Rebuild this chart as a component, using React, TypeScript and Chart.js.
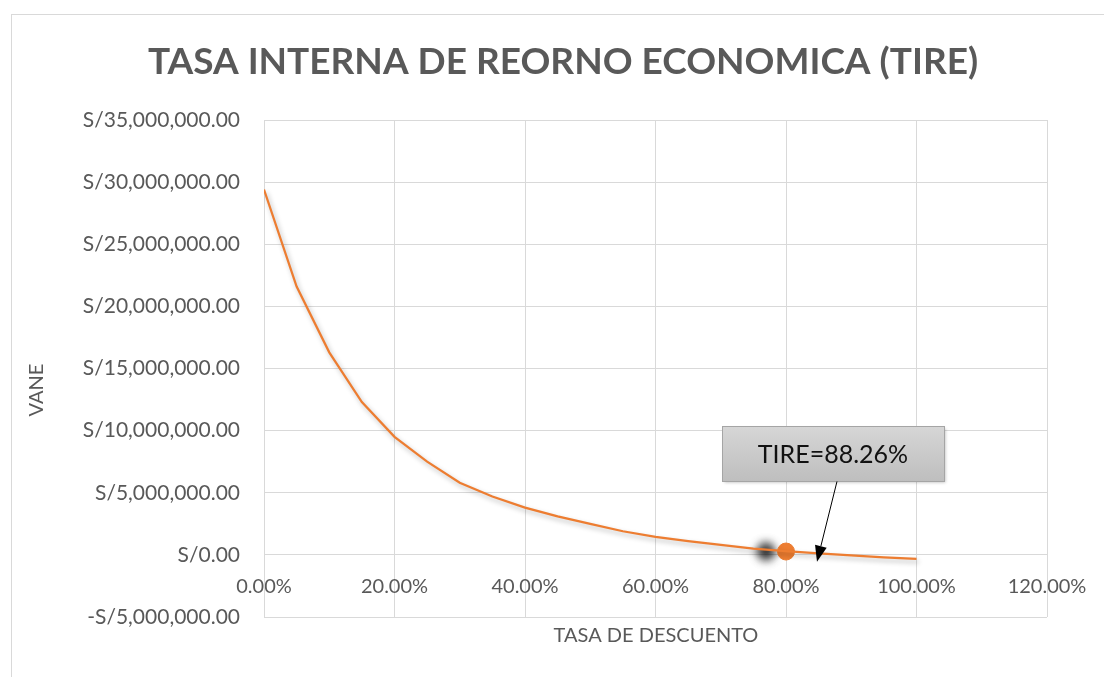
import React, { useEffect, useRef } from 'react';
import { Chart, registerables } from 'chart.js';

Chart.register(...registerables);

// ---- data ----
const rates = [0, 0.05, 0.1, 0.15, 0.2, 0.25, 0.3, 0.35, 0.4, 0.45, 0.5, 0.55, 0.6, 0.65, 0.7, 0.75, 0.8, 0.85, 0.9, 0.95, 1.0];
const vane = [29.4e6, 21.6e6, 16.3e6, 12.3e6, 9.5e6, 7.5e6, 5.8e6, 4.7e6, 3.8e6, 3.1e6, 2.5e6, 1.9e6, 1.45e6, 1.1e6, 0.8e6, 0.5e6, 0.3e6, 0.12e6, -0.05e6, -0.2e6, -0.32e6];
const markerRate = [0.8];
const markerVane = [0.27e6];
const tireLabel = 'TIRE=88.26%';
const chartTitle = 'TASA INTERNA DE REORNO ECONOMICA (TIRE)';
const xTitle = 'TASA DE DESCUENTO';
const yTitle = 'VANE';
const xTickMin = 0, xTickMax = 1.2, xTickStep = 0.2;
const yTickMin = -5e6, yTickMax = 35e6, yTickStep = 5e6;

const FONT = 'Lato';
const TEXT = '#595959';
const GRID = '#D9D9D9';
const ORANGE = '#ED7D31';

function money(v: number): string {
  const s = Math.abs(v).toLocaleString('en-US', { minimumFractionDigits: 2, maximumFractionDigits: 2 });
  return (v < 0 ? '-S/' : 'S/') + s;
}

const decor = {
  id: 'decor',
  beforeDraw(chart: any) {
    const ctx = chart.ctx;
    ctx.save();
    ctx.fillStyle = '#ffffff';
    ctx.fillRect(0, 0, chart.width, chart.height);
    ctx.strokeStyle = GRID;
    ctx.lineWidth = 1;
    ctx.strokeRect(11.5, 14.5, chart.width + 20, chart.height + 20);
    // title
    ctx.fillStyle = TEXT;
    ctx.font = `bold 37px ${FONT}`;
    ctx.textAlign = 'center';
    ctx.textBaseline = 'middle';
    ctx.fillText(chartTitle, 563, 62);
    // x title
    ctx.font = `20px ${FONT}`;
    ctx.fillText(xTitle, 656, 636);
    // y title
    ctx.translate(37, 390);
    ctx.rotate(-Math.PI / 2);
    ctx.fillText(yTitle, 0, 0);
    ctx.restore();
  },
  beforeDatasetDraw(chart: any, args: any) {
    const ctx = chart.ctx;
    ctx.save();
    if (args.index === 0) {
      ctx.shadowColor = 'rgba(0,0,0,0.28)';
      ctx.shadowBlur = 5;
      ctx.shadowOffsetX = 2;
      ctx.shadowOffsetY = 3;
    } else {
      ctx.shadowColor = 'rgba(0,0,0,0.8)';
      ctx.shadowBlur = 9;
      ctx.shadowOffsetX = -20;
      ctx.shadowOffsetY = 0;
    }
  },
  afterDatasetDraw(chart: any) {
    chart.ctx.restore();
  },
  afterDraw(chart: any) {
    const ctx = chart.ctx;
    const xs = chart.scales.x, ys = chart.scales.y;
    // callout box
    const cx = xs.getPixelForValue(0.872);
    const cy = ys.getPixelForValue(8.15e6);
    const w = 222, h = 55;
    const bx = Math.round(cx - w / 2) + 0.5, by = Math.round(cy - h / 2) + 0.5;
    ctx.save();
    ctx.shadowColor = 'rgba(0,0,0,0.25)';
    ctx.shadowBlur = 3;
    ctx.shadowOffsetX = 1;
    ctx.shadowOffsetY = 1;
    const g = ctx.createLinearGradient(0, by, 0, by + h);
    g.addColorStop(0, '#D6D6D6');
    g.addColorStop(1, '#BEBEBE');
    ctx.fillStyle = g;
    ctx.fillRect(bx, by, w, h);
    ctx.shadowColor = 'transparent';
    ctx.strokeStyle = '#A5A5A5';
    ctx.lineWidth = 1;
    ctx.strokeRect(bx, by, w, h);
    ctx.fillStyle = '#111111';
    ctx.font = `25px ${FONT}`;
    ctx.textAlign = 'center';
    ctx.textBaseline = 'middle';
    ctx.fillText(tireLabel, cx, cy + 1);
    // arrow
    const sx = cx + 4, sy = by + h;
    const tx = xs.getPixelForValue(0.8475), ty = ys.getPixelForValue(-0.55e6);
    const ang = Math.atan2(ty - sy, tx - sx);
    const L = 16, W = 6;
    const bxp = tx - L * Math.cos(ang), byp = ty - L * Math.sin(ang);
    ctx.strokeStyle = '#000';
    ctx.lineWidth = 1;
    ctx.beginPath();
    ctx.moveTo(sx, sy);
    ctx.lineTo(bxp, byp);
    ctx.stroke();
    ctx.fillStyle = '#000';
    ctx.beginPath();
    ctx.moveTo(tx, ty);
    ctx.lineTo(bxp + W * Math.sin(ang), byp - W * Math.cos(ang));
    ctx.lineTo(bxp - W * Math.sin(ang), byp + W * Math.cos(ang));
    ctx.closePath();
    ctx.fill();
    ctx.restore();
  },
};

export default function App() {
  const ref = useRef<HTMLCanvasElement | null>(null);
  useEffect(() => {
    if (!ref.current) return;
    const chart = new Chart(ref.current, {
      type: 'scatter',
      data: {
        datasets: [
          {
            data: rates.map((r, i) => ({ x: r, y: vane[i] })),
            showLine: true,
            borderColor: ORANGE,
            borderWidth: 2.25,
            pointRadius: 0,
            pointHoverRadius: 0,
            tension: 0,
          },
          {
            data: markerRate.map((r, i) => ({ x: r, y: markerVane[i] })),
            showLine: false,
            backgroundColor: ORANGE,
            borderColor: ORANGE,
            borderWidth: 1,
            pointRadius: 8.5,
          },
        ],
      },
      options: {
        responsive: false,
        animation: false,
        events: [],
        layout: { padding: { top: 120, right: 57, bottom: 60, left: 0 } },
        plugins: { legend: { display: false }, tooltip: { enabled: false }, title: { display: false } },
        scales: {
          x: {
            type: 'linear',
            position: { y: 0 } as any,
            min: xTickMin,
            max: xTickMax,
            afterFit: (s: any) => { s.height = 0; s.paddingLeft = 0; s.paddingRight = 0; },
            grid: { color: GRID, drawTicks: false, lineWidth: 1 },
            border: { color: GRID },
            ticks: {
              stepSize: xTickStep,
              padding: 20,
              color: TEXT,
              font: { family: FONT, size: 20 },
              maxRotation: 0,
              callback: (v: any) => (Number(v) * 100).toFixed(2) + '%',
            },
          },
          y: {
            type: 'linear',
            position: 'left',
            min: yTickMin,
            max: yTickMax,
            afterFit: (s: any) => { s.width = 264; s.paddingTop = 0; s.paddingBottom = 0; },
            grid: { color: GRID, drawTicks: false, lineWidth: 1 },
            border: { color: GRID },
            ticks: {
              stepSize: yTickStep,
              padding: 24,
              color: TEXT,
              font: { family: FONT, size: 21 },
              callback: (v: any) => money(Number(v)),
            },
          },
        },
      },
      plugins: [decor],
    });
    return () => chart.destroy();
  }, []);
  return (
    <div style={{ position: 'fixed', left: 0, top: 0, width: 1104, height: 677, background: '#fff' }}>
      <canvas ref={ref} width={1104} height={677} style={{ display: 'block' }} />
    </div>
  );
}
